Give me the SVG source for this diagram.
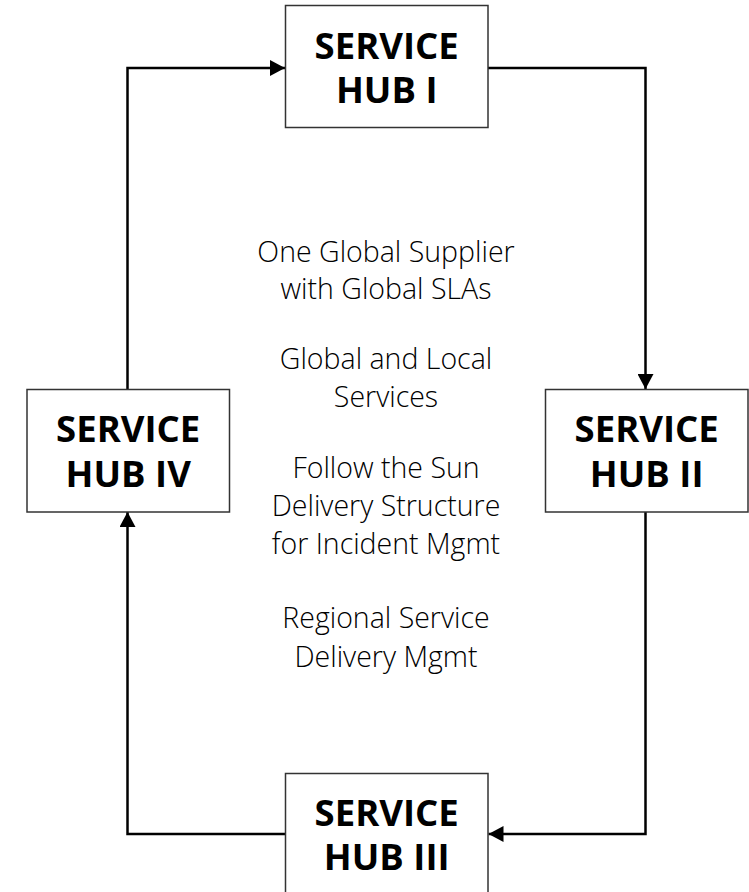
<svg xmlns="http://www.w3.org/2000/svg" width="749" height="892" viewBox="0 0 749 892">
  <style>
    .box { fill: #ffffff; stroke: #333333; stroke-width: 1.5; }
    .hub { font-family: "Open Sans", "Noto Sans", "Liberation Sans", sans-serif; font-weight: 700; font-size: 36.5px; fill: #000000; text-anchor: middle; }
    .note { font-family: "Open Sans", "Noto Sans", "Liberation Sans", sans-serif; font-weight: 300; font-size: 28.5px; fill: #000000; text-anchor: middle; }
    .conn { fill: none; stroke: #000000; stroke-width: 2.5; marker-end: url(#arrow); }
  </style>
  <defs>
    <marker id="arrow" markerUnits="userSpaceOnUse" markerWidth="16" markerHeight="16" refX="15" refY="8" orient="auto">
      <path d="M0,0 L15,8 L0,16 Z" fill="#000000"/>
    </marker>
  </defs>
  <rect width="749" height="892" fill="#ffffff"/>

  <g id="connectors">
    <path class="conn" d="M488,68 H645.5 V389"/>
    <path class="conn" d="M645.5,512 V834 H488.5"/>
    <path class="conn" d="M285,834 H127.5 V512"/>
    <path class="conn" d="M127.5,389 V68 H285"/>
  </g>

  <g id="hub1">
    <rect class="box" x="285.5" y="5.5" width="202.5" height="122"/>
    <text class="hub" x="386.7" y="58.5">SERVICE</text>
    <text class="hub" x="386.7" y="102.5">HUB I</text>
  </g>
  <g id="hub2">
    <rect class="box" x="545.5" y="389.5" width="202.5" height="122.5"/>
    <text class="hub" x="646.7" y="442.3">SERVICE</text>
    <text class="hub" x="646.7" y="486.5">HUB II</text>
  </g>
  <g id="hub3">
    <rect class="box" x="285.5" y="773.5" width="202.5" height="122"/>
    <text class="hub" x="386.7" y="826">SERVICE</text>
    <text class="hub" x="386.7" y="870">HUB III</text>
  </g>
  <g id="hub4">
    <rect class="box" x="27" y="389.5" width="202.5" height="122.5"/>
    <text class="hub" x="128.2" y="442.3">SERVICE</text>
    <text class="hub" x="128.2" y="486.5">HUB IV</text>
  </g>

  <g id="notes">
    <text class="note" x="386" y="261.5">One Global Supplier</text>
    <text class="note" x="386" y="299">with Global SLAs</text>
    <text class="note" x="386" y="369">Global and Local</text>
    <text class="note" x="386" y="406.5">Services</text>
    <text class="note" x="386" y="478">Follow the Sun</text>
    <text class="note" x="386" y="516">Delivery Structure</text>
    <text class="note" x="386" y="554">for Incident Mgmt</text>
    <text class="note" x="386" y="628">Regional Service</text>
    <text class="note" x="386" y="666.5">Delivery Mgmt</text>
  </g>
</svg>
